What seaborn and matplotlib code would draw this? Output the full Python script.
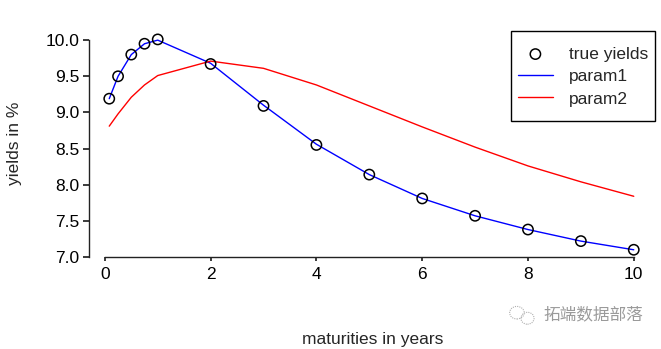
import matplotlib
matplotlib.use("Agg")
import matplotlib.pyplot as plt
from matplotlib.patches import Ellipse, Rectangle
import seaborn as sns
import pandas as pd

maturities = [1/12, 0.25, 0.5, 0.75, 1, 2, 3, 4, 5, 6, 7, 8, 9, 10]
true_yields = [9.19, 9.50, 9.80, 9.95, 10.01, 9.67, 9.09, 8.55, 8.14, 7.81, 7.57, 7.38, 7.22, 7.10]
param1 = [9.19, 9.50, 9.80, 9.95, 10.00, 9.68, 9.10, 8.56, 8.14, 7.81, 7.57, 7.38, 7.22, 7.10]
param2 = [8.81, 8.98, 9.21, 9.38, 9.51, 9.71, 9.61, 9.38, 9.09, 8.80, 8.52, 8.26, 8.04, 7.84]
x_ticks = [0, 2, 4, 6, 8, 10]
y_ticks = [7.0, 7.5, 8.0, 8.5, 9.0, 9.5, 10.0]

sns.set_theme(style="ticks")
plt.rcParams['font.family'] = ['Liberation Sans', 'DejaVu Sans']

df = pd.DataFrame({"m": maturities, "true": true_yields, "p1": param1, "p2": param2})

fig = plt.figure(figsize=(6.61, 3.49), dpi=100)
ax = fig.add_axes([0.1346, 0.2636, 0.8578, 0.6504])

sns.scatterplot(data=df, x="m", y="true", ax=ax, marker="o", s=55,
                facecolor="none", edgecolor="black", linewidth=1.1,
                label="true yields", zorder=3)
sns.lineplot(data=df, x="m", y="p1", ax=ax, color="#0000ff", linewidth=1.0, label="param1")
sns.lineplot(data=df, x="m", y="p2", ax=ax, color="#ff0000", linewidth=1.0, label="param2")

ax.set_xlim(-0.30, 10.42)
ax.set_ylim(7.0, 10.14)
ax.set_xticks(x_ticks)
ax.set_xticklabels([str(v) for v in x_ticks])
ax.set_yticks(y_ticks)
ax.set_yticklabels([f"{v:.1f}" for v in y_ticks])
sns.despine(ax=ax)
ax.spines['bottom'].set_bounds(0, 10)
ax.spines['left'].set_bounds(7.0, 10.0)
for s in ('bottom', 'left'):
    ax.spines[s].set_color('#222222')
    ax.spines[s].set_linewidth(1.0)
ax.tick_params(axis='both', labelsize=12.5, colors='#222222', labelcolor='black')
ax.tick_params(axis='x', length=3, pad=4)
ax.tick_params(axis='y', length=4, pad=3)

ax.set_xlabel("maturities in years", fontsize=12.5, labelpad=36)
ax.set_ylabel("yields in %", fontsize=12.5, labelpad=17)

handles, labels = ax.get_legend_handles_labels()
leg = ax.legend(handles, labels, loc="center", bbox_to_anchor=(0.882, 0.7808),
                bbox_transform=fig.transFigure,
                fontsize=12.5, frameon=False,
                handlelength=2.0, handletextpad=0.92, borderpad=0.0,
                labelspacing=0.42)
# legend frame (square box)
fig.patches.append(Rectangle((511 / 661, 1 - 121 / 349), 144 / 661, 90 / 349,
                             transform=fig.transFigure, fill=False,
                             edgecolor="black", linewidth=1.0, zorder=5))

# watermark
fig.text(0.822, 0.097, "拓端数据部落", fontsize=12, color="#9a9a9a",
         family=['Noto Sans CJK SC', 'DejaVu Sans'], ha='left', va='center')
fig.patches.append(Ellipse((0.782, 0.104), 0.022, 0.036, transform=fig.transFigure,
                           fill=False, edgecolor="#b0b0b0", linewidth=0.8, linestyle=(0, (1, 1))))
fig.patches.append(Ellipse((0.798, 0.088), 0.020, 0.034, transform=fig.transFigure,
                           fill=False, edgecolor="#b0b0b0", linewidth=0.8, linestyle=(0, (1, 1))))

fig.savefig("out.png", dpi=100)
